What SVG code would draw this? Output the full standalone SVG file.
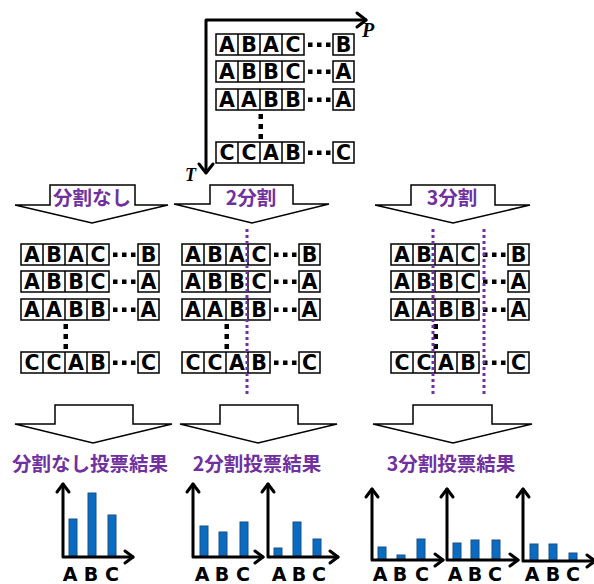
<svg xmlns="http://www.w3.org/2000/svg" xmlns:xlink="http://www.w3.org/1999/xlink" width="594" height="584" viewBox="0 0 594 584">
  <style>
    .cell { fill: #fff; stroke: #000; stroke-width: 1.5; }
    .sep { stroke: #000; stroke-width: 1.5; }
    .ch { font-family: "DejaVu Sans", "Liberation Sans", sans-serif; font-weight: bold; font-size: 20.5px; text-anchor: middle; fill: #000; }
    .axis { fill: none; stroke: #000; stroke-width: 3; stroke-linecap: round; stroke-linejoin: round; }
    .blk { fill: #fff; stroke: #000; stroke-width: 1.5; stroke-linejoin: miter; }
    .ttl { font-family: "Noto Sans CJK JP", sans-serif; font-weight: bold; font-size: 19.5px; fill: #7030A0; text-anchor: middle; }
    .cut { stroke: #7030A0; stroke-width: 3; stroke-dasharray: 3 3; fill: none; }
    .bar { fill: #0A6CC0; stroke: #1B4F86; stroke-width: 1; }
    .lab { font-family: "DejaVu Sans", "Liberation Sans", sans-serif; font-weight: bold; font-size: 19px; text-anchor: middle; fill: #000; }
    .var { font-family: "Liberation Serif", serif; font-style: italic; font-weight: bold; fill: #000; }
  </style>
  <defs>
    <!-- one row: four cells, a gap of dots, one last cell -->
    <g id="rowFrame">
      <rect class="cell" x="0" y="0" width="88" height="21"/>
      <line class="sep" x1="22" y1="0" x2="22" y2="21"/>
      <line class="sep" x1="44" y1="0" x2="44" y2="21"/>
      <line class="sep" x1="66" y1="0" x2="66" y2="21"/>
      <rect x="92" y="8.5" width="4.5" height="4.5"/>
      <rect x="101" y="8.5" width="4.5" height="4.5"/>
      <rect x="110" y="8.5" width="4.5" height="4.5"/>
      <rect class="cell" x="117" y="0" width="21" height="21"/>
    </g>
    <!-- sequence table: T rows of P positions -->
    <g id="seqTable">
      <use xlink:href="#rowFrame" y="0"/>
      <use xlink:href="#rowFrame" y="27"/>
      <use xlink:href="#rowFrame" y="55"/>
      <use xlink:href="#rowFrame" y="108"/>
      <rect x="42.5" y="80" width="4.5" height="5"/>
      <rect x="42.5" y="90" width="4.5" height="5"/>
      <rect x="42.5" y="100" width="4.5" height="5"/>
      <g class="ch">
        <text x="11" y="18">A</text><text x="33" y="18">B</text><text x="55" y="18">A</text><text x="77" y="18">C</text><text x="127.5" y="18">B</text>
        <text x="11" y="45">A</text><text x="33" y="45">B</text><text x="55" y="45">B</text><text x="77" y="45">C</text><text x="127.5" y="45">A</text>
        <text x="11" y="73">A</text><text x="33" y="73">A</text><text x="55" y="73">B</text><text x="77" y="73">B</text><text x="127.5" y="73">A</text>
        <text x="11" y="126">C</text><text x="33" y="126">C</text><text x="55" y="126">A</text><text x="77" y="126">B</text><text x="127.5" y="126">C</text>
      </g>
    </g>
  </defs>

  <!-- source table with T / P axes -->
  <g id="source">
    <polyline class="axis" points="206,172 206,20 366,20"/>
    <polyline class="axis" points="357,13 366,20 357,27"/>
    <polyline class="axis" points="199,164 206,173 213,164"/>
    <text class="var" x="362" y="37" font-size="20">P</text>
    <text class="var" x="185" y="181" font-size="18">T</text>
    <use xlink:href="#seqTable" x="216" y="34"/>
  </g>

  <!-- block arrows with split labels -->
  <g id="split-none">
    <path class="blk" d="M50,185 H135 V205 H168 L92,223 L15,205 H50 Z"/>
    <text class="ttl" x="92" y="205">分割なし</text>
  </g>
  <g id="split-2">
    <path class="blk" d="M210,185 H293 V204 H329 L252,223 L174,204 H210 Z"/>
    <text class="ttl" x="251" y="205">2分割</text>
  </g>
  <g id="split-3">
    <path class="blk" d="M411,185 H495 V205 H530 L453,223 L375,205 H411 Z"/>
    <text class="ttl" x="452" y="205">3分割</text>
  </g>

  <!-- split tables -->
  <g id="table-none">
    <use xlink:href="#seqTable" x="21" y="244"/>
  </g>
  <g id="table-2">
    <use xlink:href="#seqTable" x="182" y="244"/>
    <line class="cut" x1="247" y1="229" x2="247" y2="395"/>
  </g>
  <g id="table-3">
    <use xlink:href="#seqTable" x="391" y="244"/>
    <line class="cut" x1="433" y1="229" x2="433" y2="395"/>
    <line class="cut" x1="484" y1="229" x2="484" y2="395"/>
  </g>

  <!-- arrows to vote results -->
  <g id="vote-none">
    <path class="blk" d="M55,405 H133 V424 H172 L93,443 L15,424 H55 Z"/>
    <text class="ttl" x="90" y="471">分割なし投票結果</text>
  </g>
  <g id="vote-2">
    <path class="blk" d="M220,405 H298 V424 H337 L258,443 L180,424 H220 Z"/>
    <text class="ttl" x="257" y="471">2分割投票結果</text>
  </g>
  <g id="vote-3">
    <path class="blk" d="M413,405 H492 V424 H532 L453,443 L373,424 H413 Z"/>
    <text class="ttl" x="451" y="471">3分割投票結果</text>
  </g>

  <!-- bar charts -->
  <g id="chart-none">
    <rect class="bar" x="69" y="519" width="8" height="38"/>
    <rect class="bar" x="88" y="493" width="8" height="64"/>
    <rect class="bar" x="108" y="515" width="8" height="42"/>
    <polyline class="axis" points="63,484 63,557 133,557"/>
    <polyline class="axis" points="57,492 63,484 69,492"/>
    <polyline class="axis" points="125,551 133,557 125,563"/>
    <g class="lab"><text x="70" y="581">A</text><text x="91" y="581">B</text><text x="112" y="581">C</text></g>
  </g>
  <g id="chart-2a">
    <rect class="bar" x="200" y="526" width="8" height="31"/>
    <rect class="bar" x="219" y="532" width="8" height="25"/>
    <rect class="bar" x="240" y="522" width="8" height="35"/>
    <polyline class="axis" points="193,484 193,557 263,557"/>
    <polyline class="axis" points="187,492 193,484 199,492"/>
    <polyline class="axis" points="255,551 263,557 255,563"/>
    <g class="lab"><text x="202" y="581">A</text><text x="222" y="581">B</text><text x="243" y="581">C</text></g>
  </g>
  <g id="chart-2b">
    <rect class="bar" x="274" y="548" width="8" height="9"/>
    <rect class="bar" x="293" y="522" width="8" height="35"/>
    <rect class="bar" x="313" y="539" width="8" height="18"/>
    <polyline class="axis" points="268,484 268,557 338,557"/>
    <polyline class="axis" points="262,492 268,484 274,492"/>
    <polyline class="axis" points="330,551 338,557 330,563"/>
    <g class="lab"><text x="279" y="581">A</text><text x="299" y="581">B</text><text x="319" y="581">C</text></g>
  </g>
  <g id="chart-3a">
    <rect class="bar" x="378" y="547" width="8" height="13"/>
    <rect class="bar" x="397" y="555" width="8" height="5"/>
    <rect class="bar" x="417" y="539" width="8" height="21"/>
    <polyline class="axis" points="372,489 372,560 443,560"/>
    <polyline class="axis" points="366,497 372,489 378,497"/>
    <polyline class="axis" points="435,554 443,560 435,566"/>
    <g class="lab"><text x="380" y="581">A</text><text x="400" y="581">B</text><text x="422" y="581">C</text></g>
  </g>
  <g id="chart-3b">
    <rect class="bar" x="453" y="543" width="8" height="17"/>
    <rect class="bar" x="471" y="540" width="8" height="20"/>
    <rect class="bar" x="492" y="540" width="8" height="20"/>
    <polyline class="axis" points="447,489 447,560 518,560"/>
    <polyline class="axis" points="441,497 447,489 453,497"/>
    <polyline class="axis" points="510,554 518,560 510,566"/>
    <g class="lab"><text x="455" y="581">A</text><text x="475" y="581">B</text><text x="495" y="581">C</text></g>
  </g>
  <g id="chart-3c">
    <rect class="bar" x="530" y="544" width="8" height="17"/>
    <rect class="bar" x="549" y="544" width="8" height="17"/>
    <rect class="bar" x="569" y="553" width="8" height="8"/>
    <polyline class="axis" points="523,489 523,561 594,561"/>
    <polyline class="axis" points="517,497 523,489 529,497"/>
    <polyline class="axis" points="587,555 595,561 587,567"/>
    <g class="lab"><text x="532" y="581">A</text><text x="553" y="581">B</text><text x="573" y="581">C</text></g>
  </g>
</svg>
